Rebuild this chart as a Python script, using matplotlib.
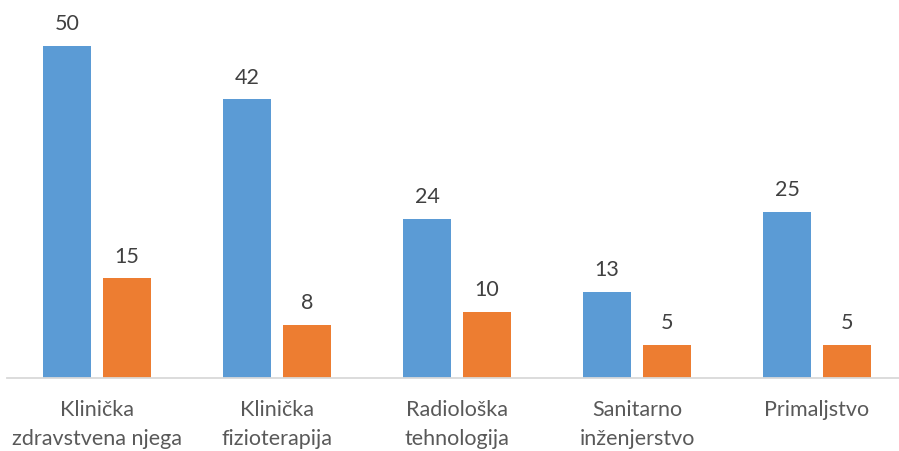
import matplotlib.pyplot as plt
import numpy as np

categories = ["Klinička\nzdravstvena njega", "Klinička\nfizioterapija",
              "Radiološka\ntehnologija", "Sanitarno\ninženjerstvo", "Primaljstvo"]
series_a = [50, 42, 24, 13, 25]
series_b = [15, 8, 10, 5, 5]

plt.rcParams["font.family"] = ["Lato", "DejaVu Sans"]

fig = plt.figure(figsize=(8.99, 4.52), dpi=100)
ax = fig.add_axes([7 / 899, (452 - 379) / 452, 900 / 899, 379 / 452])

x = np.arange(len(categories))
w = 48 / 180
off = 30 / 180
bars_a = ax.bar(x - off, series_a, w, color="#5B9BD5")
bars_b = ax.bar(x + off, series_b, w, color="#ED7D31")

for bars in (bars_a, bars_b):
    for b in bars:
        ax.annotate(str(int(b.get_height())), (b.get_x() + b.get_width() / 2, b.get_height()),
                    xytext=(0, 9), textcoords="offset points", ha="center", va="bottom",
                    fontsize=15.5, color="#404040")

ax.set_xlim(-0.5, len(categories) - 0.5)
ax.set_ylim(0, 379 / 6.64)
ax.set_xticks(x)
ax.set_xticklabels(categories, fontsize=15.5, color="#595959", linespacing=1.55)
ax.tick_params(axis="x", length=0, pad=15)
ax.set_yticks([])
for s in ["top", "right", "left"]:
    ax.spines[s].set_visible(False)
ax.spines["bottom"].set_color("#D9D9D9")
ax.spines["bottom"].set_linewidth(1.3)

fig.savefig("out.png", dpi=100)
